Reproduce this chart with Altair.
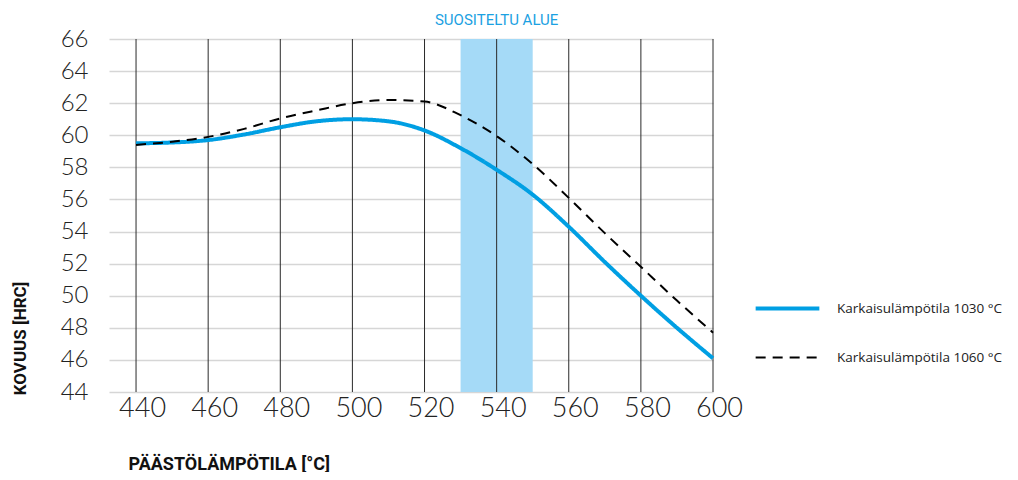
import altair as alt
import pandas as pd

temps = [440, 450, 460, 470, 480, 490, 500, 510, 520, 530, 540, 550, 560, 570, 580, 590, 600]
hrc_1030 = [59.5, 59.55, 59.7, 60.05, 60.5, 60.87, 61.0, 60.87, 60.3, 59.2, 57.85, 56.3, 54.3, 52.1, 50.0, 48.0, 46.1]
hrc_1060 = [59.4, 59.6, 59.9, 60.4, 61.05, 61.55, 62.0, 62.2, 62.1, 61.25, 59.95, 58.2, 56.1, 53.9, 51.8, 49.7, 47.7]
series_names = ["Karkaisulämpötila 1030 °C", "Karkaisulämpötila 1060 °C"]
series_colors = ["#009FE3", "#000000"]
x_ticks = [440, 460, 480, 500, 520, 540, 560, 580, 600]
y_ticks = [44, 46, 48, 50, 52, 54, 56, 58, 60, 62, 64, 66]
band_start = [530]
band_end = [550]
band_label = ["SUOSITELTU ALUE"]
x_title = "PÄÄSTÖLÄMPÖTILA [°C]"
y_title = "KOVUUS [HRC]"

df = pd.DataFrame({
    "temp": temps + temps,
    "hrc": hrc_1030 + hrc_1060,
    "series": [series_names[0]] * len(temps) + [series_names[1]] * len(temps),
})
band_df = pd.DataFrame({
    "temp": band_start,
    "end": band_end,
    "mid": [(a + b) / 2 for a, b in zip(band_start, band_end)],
    "label": band_label,
    "hrc": [max(y_ticks)],
})
grid_df = pd.DataFrame({"temp": x_ticks})

xscale = alt.Scale(domain=[432.5, 600], nice=False, zero=False)
yscale = alt.Scale(domain=[44, 66], nice=False, zero=False)

x_axis = alt.Axis(
    title=x_title, values=x_ticks, grid=False, ticks=False, domain=False,
    labelFont="Lato", labelFontWeight=300, labelFontSize=27, labelColor="#222222",
    labelPadding=3, labelFlush=False, labelOffset=6,
    titleFont="Roboto", titleFontWeight="bold", titleFontSize=18, titleColor="#111111",
    titleX=19, titleY=77, titleAlign="left", titleBaseline="alphabetic",
)
y_axis = alt.Axis(
    title=y_title, values=y_ticks, grid=True, gridColor="#d6d6d6", gridWidth=1.5,
    ticks=False, domain=False,
    labelFont="Lato", labelFontWeight=300, labelFontSize=24, labelColor="#222222",
    labelPadding=21, labelFlush=False,
    titleFont="Roboto", titleFontWeight="bold", titleFontSize=17, titleColor="#111111",
    titleX=-89, titleY=299, titleAlign="center", titleBaseline="middle", titleAngle=-90,
)

band = alt.Chart(band_df).mark_rect(color="#A5DAF7").encode(
    x=alt.X("temp:Q", scale=xscale, axis=x_axis, title=x_title),
    x2="end:Q",
)
band_text = alt.Chart(band_df).mark_text(
    dy=-19, baseline="middle", align="center",
    font="Roboto", fontSize=15, color="#1BA1E2",
).encode(
    x=alt.X("mid:Q", scale=xscale, axis=x_axis, title=x_title),
    y=alt.Y("hrc:Q", scale=yscale, axis=y_axis, title=y_title),
    text="label:N",
)
vgrid = alt.Chart(grid_df).mark_rule(color="#2a2a2a", strokeWidth=1).encode(
    x=alt.X("temp:Q", scale=xscale, axis=x_axis, title=x_title),
)

leg = alt.Legend(
    title=None, orient="none", legendX=652, legendY=243,
    symbolType="M-1.3,0H1.3", symbolSize=2401,
    labelFont="Open Sans", labelFontSize=13.5, labelColor="#222222",
    labelOffset=23, rowPadding=15, labelLimit=0,
)
lines = alt.Chart(df).mark_line(interpolate="monotone").encode(
    x=alt.X("temp:Q", scale=xscale, axis=x_axis, title=x_title),
    y=alt.Y("hrc:Q", scale=yscale, axis=y_axis, title=y_title),
    color=alt.Color("series:N", scale=alt.Scale(domain=series_names, range=series_colors), legend=leg),
    strokeDash=alt.StrokeDash("series:N", scale=alt.Scale(domain=series_names, range=[[1, 0], [10, 7]]), legend=leg),
    strokeWidth=alt.StrokeWidth("series:N", scale=alt.Scale(domain=series_names, range=[4, 2]), legend=leg),
)

chart = alt.layer(band, vgrid, lines, band_text).properties(
    width=604, height=353,
    padding={"left": 101, "top": 31, "right": 297, "bottom": 80},
    autosize="none",
    background="white",
).configure_view(stroke=None)

chart.save("out.html", embed_options={"renderer": "svg", "actions": False})
